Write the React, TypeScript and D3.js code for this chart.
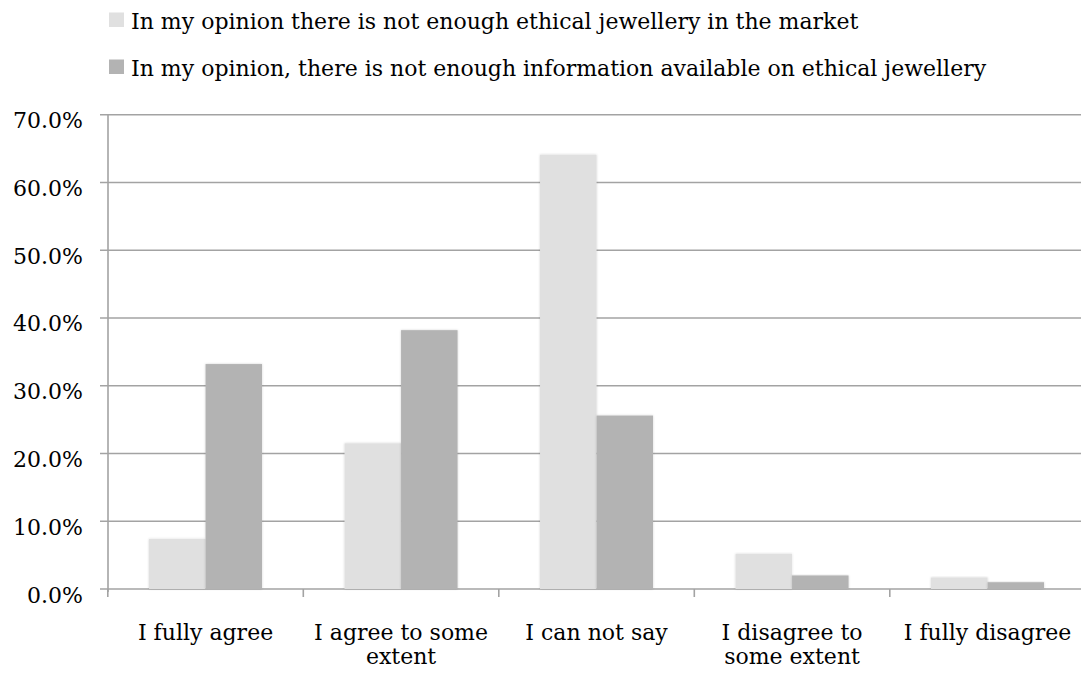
import React from "react";
import * as d3 from "d3";

const categories = [
  "I fully agree",
  "I agree to some extent",
  "I can not say",
  "I disagree to some extent",
  "I fully disagree",
];
const categoryLines = [
  ["I fully agree"],
  ["I agree to some", "extent"],
  ["I can not say"],
  ["I disagree to", "some extent"],
  ["I fully disagree"],
];
const seriesNames = [
  "In my opinion there is not enough ethical jewellery in the market",
  "In my opinion, there is not enough information available on ethical jewellery",
];
const seriesMarket = [7.4, 21.5, 64.1, 5.2, 1.7];
const seriesInfo = [33.2, 38.2, 25.6, 2.0, 1.0];
const yTicks = [0, 10, 20, 30, 40, 50, 60, 70];
const colors = ["#e0e0e0", "#b3b3b3"];

const W = 1081;
const H = 674;
const FONT = "'DejaVu Serif', serif";
const FS = 22;

export default function App() {
  const left = 107.8;
  const step = 195.5;
  const x0 = d3
    .scaleBand<string>()
    .domain(categories)
    .range([left, left + step * categories.length])
    .paddingInner(0)
    .paddingOuter(0);
  const x1 = d3
    .scaleBand<number>()
    .domain([0, 1])
    .range([0, x0.bandwidth()])
    .paddingInner(0)
    .paddingOuter(0.73);
  const y = d3.scaleLinear().domain([0, 70]).range([589, 114.7]);
  const series = [seriesMarket, seriesInfo];
  const grid = "#a3a3a3";

  return (
    <svg
      width={W}
      height={H}
      style={{ position: "absolute", left: 0, top: 0, background: "#fff" }}
      fontFamily={FONT}
    >
      <defs>
        <filter id="sh" x="-20%" y="-5%" width="140%" height="110%">
          <feDropShadow dx="0" dy="0" stdDeviation="1.2" floodColor="#000" floodOpacity="0.18" />
        </filter>
      </defs>
      {/* legend */}
      {seriesNames.map((s, i) => (
        <g key={s}>
          <rect x={109} y={12.5 + i * 47} width={15} height={14.5} fill={colors[i]} />
          <text x={131} y={29 + i * 47} fontSize={FS} fill="#000">
            {s}
          </text>
        </g>
      ))}
      {/* gridlines */}
      {yTicks.map((t) => (
        <g key={t}>
          <line x1={100} x2={W} y1={y(t)} y2={y(t)} stroke={grid} strokeWidth={1.6} />
          <text x={83} y={y(t) + 13.5} fontSize={FS} textAnchor="end" fill="#000">
            {t.toFixed(1)}%
          </text>
        </g>
      ))}
      {/* y axis */}
      <line x1={108} x2={108} y1={y(70)} y2={y(0) + 3} stroke={grid} strokeWidth={1.6} />
      {/* x ticks */}
      {categories.map((c) => (
        <line
          key={c}
          x1={x0(c) as number}
          x2={x0(c) as number}
          y1={y(0)}
          y2={y(0) + 8}
          stroke={grid}
          strokeWidth={1.6}
        />
      ))}
      {/* bars */}
      {categories.map((c, ci) => (
        <g key={c} transform={`translate(${x0(c)},0)`}>
          {series.map((vals, si) => (
            <rect
              key={si}
              x={x1(si)}
              y={y(vals[ci])}
              width={x1.bandwidth()}
              height={y(0) - y(vals[ci])}
              fill={colors[si]}
              filter="url(#sh)"
            />
          ))}
        </g>
      ))}
      {/* x labels */}
      {categories.map((c, ci) => (
        <text
          key={c}
          x={(x0(c) as number) + x0.bandwidth() / 2}
          y={640}
          fontSize={FS}
          textAnchor="middle"
          fill="#000"
        >
          {categoryLines[ci].map((l, li) => (
            <tspan key={li} x={(x0(c) as number) + x0.bandwidth() / 2} dy={li === 0 ? 0 : 24}>
              {l}
            </tspan>
          ))}
        </text>
      ))}
    </svg>
  );
}
